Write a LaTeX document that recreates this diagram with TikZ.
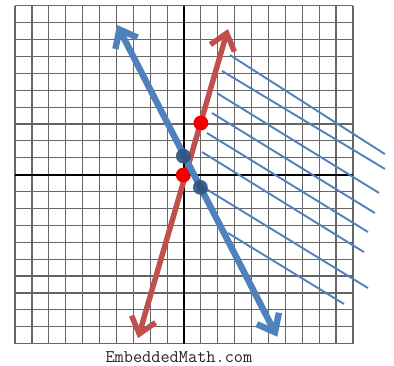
\documentclass[tikz,border=0pt]{standalone}
\usetikzlibrary{arrows.meta}
\definecolor{lineblue}{HTML}{4F81BD}
\definecolor{linered}{HTML}{C0504D}
\definecolor{dotblue}{HTML}{2C5380}
\definecolor{dotred}{HTML}{F20000}

\begin{document}
\begin{tikzpicture}[
							x=0.5cm, y=0.5cm,
							gridline/.style={draw=black!60, line width=1pt},
							axisline/.style={draw=black, line width=1.8pt},
							redline/.style={draw=linered, line width=4.6pt,
								{Straight Barb[length=13pt, width=21pt]}-{Straight Barb[length=13pt, width=21pt]}},
							blueline/.style={draw=lineblue, line width=5.4pt,
								{Straight Barb[length=13pt, width=21pt]}-{Straight Barb[length=13pt, width=21pt]}},
							hatch/.style={draw=lineblue, line width=1.6pt},
							reddot/.style={fill=dotred},
							bluedot/.style={fill=dotblue, fill opacity=0.9},
							brand/.style={font=\ttfamily\fontsize{15}{15}\selectfont, text=black!85}
							]
							\useasboundingbox (-10.89,-11.32) rectangle (12.43,10.34);
							% grid and axes
							\draw[gridline, step=0.5cm] (-10,-10) grid (10,10);
							\draw[axisline] (-10,0) -- (10,0);
							\draw[axisline] (0,-10) -- (0,10);
							% shading lines
							\foreach \xa/\ya/\xb/\yb in {2.72/7.08/11.89/1.22, 2.25/6.14/11.89/0.34,
								1.95/4.83/11.54/-1.08, 1.66/3.65/11.30/-2.27, 1.36/2.47/10.89/-3.39,
								1.07/1.34/10.65/-4.58, 1.12/-0.73/10.89/-6.71, 2.60/-3.45/9.47/-7.65}
								\draw[hatch] (\xa,\ya) -- (\xb,\yb);
							% the two lines
							\coordinate (rlow) at (-2.72,-9.67);
							\coordinate (rhigh) at (2.60,8.62);
							\coordinate (bhigh) at (-3.96,8.86);
							\coordinate (blow) at (5.52,-9.59);
							\draw[redline] (rlow) -- (rhigh);
							\fill[reddot] (-0.04,-0.02) circle (0.44);
							\fill[reddot] (1.0,3.06) circle (0.44);
							\draw[blueline] (bhigh) -- (blow);
							\fill[bluedot] (-0.04,1.1) circle (0.44);
							\fill[bluedot] (0.97,-0.75) circle (0.44);
							\node[brand] (site) at (-0.3,-10.82) {EmbeddedMath.com};
						\end{tikzpicture}
\end{document}
